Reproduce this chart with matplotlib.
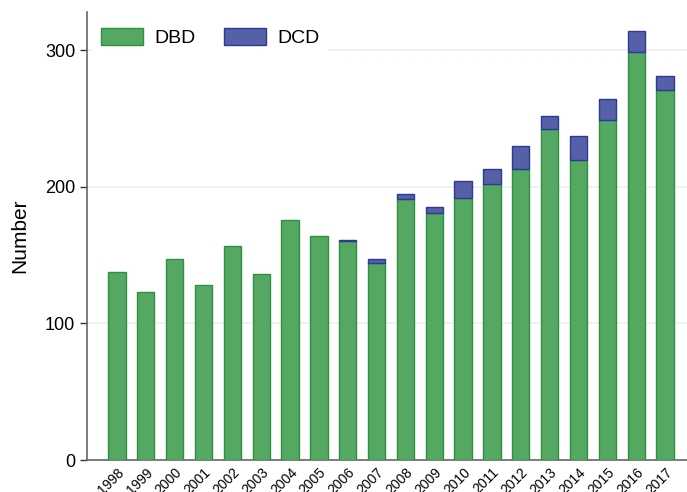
import numpy as np
import matplotlib
matplotlib.use('Agg')
from matplotlib import pyplot as plt

plt.rcParams['font.family'] = ['Liberation Sans', 'DejaVu Sans']

#values
years = ['1998', '1999', '2000', '2001', '2002', '2003', '2004', '2005', '2006', '2007',
         '2008', '2009', '2010', '2011', '2012', '2013', '2014', '2015', '2016', '2017']
dbd = [138, 123, 147, 128, 157, 136, 176, 164, 160, 144,
       191, 181, 192, 202, 213, 242, 220, 249, 299, 271]
dcd = [0, 0, 0, 0, 0, 0, 0, 0, 1, 3,
       4, 4, 12, 11, 17, 10, 17, 15, 15, 10]

green = '#55a862'
green_edge = '#2e9140'
blue = '#5560a8'
blue_edge = '#2d3a90'

fig = plt.figure(figsize=(6.87, 4.92), dpi=100)
ax = fig.add_axes([0.1266, 0.065, 0.8734, 0.9106])

x = np.arange(len(years))
ax.bar(x, dbd, width=0.6, color=green, edgecolor=green_edge, linewidth=1, label='DBD', zorder=3)

#only years that have DCD entries get a stacked segment
dcd = np.array(dcd)
has = dcd > 0
ax.bar(x[has], dcd[has], width=0.6, bottom=np.array(dbd)[has], color=blue,
       edgecolor=blue_edge, linewidth=1, label='DCD', zorder=3)

ax.set_xlim(-1.04, 19.76)
ax.set_ylim(0, 328)
ax.set_yticks([0, 100, 200, 300])
ax.yaxis.grid(True, color='#eef0f0', linewidth=1.2, zorder=0)

ax.set_xticks(x)
ax.set_xticklabels(years, rotation=45, ha='right', rotation_mode='anchor', fontsize=10)
ax.tick_params(axis='x', length=0, pad=4)
ax.tick_params(axis='y', length=5, width=1, labelsize=13, direction='out', color='#333333')
ax.set_ylabel('Number', fontsize=15, labelpad=11)

for s in ['top', 'right']:
    ax.spines[s].set_visible(False)
for s in ['left', 'bottom']:
    ax.spines[s].set_color('#666666')
    ax.spines[s].set_linewidth(1.2)

leg = ax.legend(loc='upper left', bbox_to_anchor=(0.0, 0.995), ncol=2, fontsize=14,
                frameon=True, fancybox=False, handlelength=2.2, handleheight=0.95,
                handletextpad=0.55, columnspacing=1.45, borderaxespad=0.3)
leg.get_frame().set_edgecolor('white')
leg.get_frame().set_facecolor('white')
leg.get_frame().set_alpha(1)

fig.savefig('out.png', dpi=100)
